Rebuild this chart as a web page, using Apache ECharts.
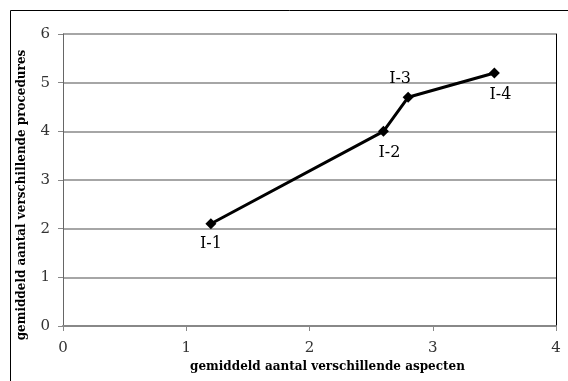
<!DOCTYPE html>
<html><head><meta charset="utf-8">
<script src="https://cdn.jsdelivr.net/npm/echarts@6/dist/echarts.min.js"></script>
<style>html,body{margin:0;padding:0;background:#fff}#c{width:568px;height:381px}</style>
</head><body><div id="c"></div>
<script>
const xValues = [1.2, 2.6, 2.8, 3.5];
const yValues = [2.1, 4.0, 4.7, 5.2];
const pointLabels = ['I-1', 'I-2', 'I-3', 'I-4'];
const xTitle = 'gemiddeld aantal verschillende aspecten';
const yTitle = 'gemiddeld aantal verschillende procedures';

const labelPlacement = {
  'I-1': {position: 'bottom', offset: [0, 2]},
  'I-2': {position: 'bottom', offset: [6, 3]},
  'I-3': {position: 'top', offset: [-8, 0]},
  'I-4': {position: 'bottom', offset: [6, 3]}
};
const serif = '"DejaVu Serif", "Liberation Serif", serif';
const chart = echarts.init(document.getElementById('c'));
chart.setOption({
  animation: false,
  graphic: [{type: 'rect', shape: {x: 10.5, y: 10.5, width: 570, height: 380}, style: {fill: 'none', stroke: '#000', lineWidth: 1}}],
  grid: {left: 63, right: 12, top: 34, bottom: 55, containLabel: false},
  xAxis: {
    type: 'value', min: 0, max: 4, interval: 1,
    name: xTitle, nameLocation: 'middle', nameGap: 30,
    nameTextStyle: {fontFamily: serif, fontWeight: 'bold', fontSize: 12, color: '#000', padding: [0, 0, 0, 36]},
    axisLine: {show: true, lineStyle: {color: '#888', width: 2}},
    axisTick: {show: true, inside: false, length: 5, lineStyle: {color: '#888'}},
    axisLabel: {fontFamily: serif, fontSize: 15, color: '#333', margin: 15},
    splitLine: {show: false}
  },
  yAxis: [{
    type: 'value', min: 0, max: 6, interval: 1,
    name: yTitle, nameLocation: 'middle', nameGap: 35,
    nameTextStyle: {fontFamily: serif, fontWeight: 'bold', fontSize: 12, color: '#000', padding: [0, 30, 0, 0]},
    axisLine: {show: true, lineStyle: {color: '#666', width: 1}},
    axisTick: {show: true, inside: false, length: 5, lineStyle: {color: '#888'}},
    axisLabel: {fontFamily: serif, fontSize: 15, color: '#333', margin: 13},
    splitLine: {show: true, lineStyle: {color: '#888', width: 1.5}}
  }, {
    type: 'value', min: 0, max: 6, interval: 1, position: 'right',
    axisLine: {show: true, lineStyle: {color: '#000', width: 1}},
    axisTick: {show: false}, axisLabel: {show: false}, splitLine: {show: false}
  }],
  series: [{
    type: 'line',
    data: xValues.map((x, i) => ({
      value: [x, yValues[i]],
      label: Object.assign({show: true, formatter: pointLabels[i]}, labelPlacement[pointLabels[i]])
    })),
    symbol: 'diamond', symbolSize: 11,
    itemStyle: {color: '#000'},
    lineStyle: {color: '#000', width: 3},
    label: {fontFamily: serif, fontSize: 16, color: '#000'}
  }]
});
</script></body></html>
